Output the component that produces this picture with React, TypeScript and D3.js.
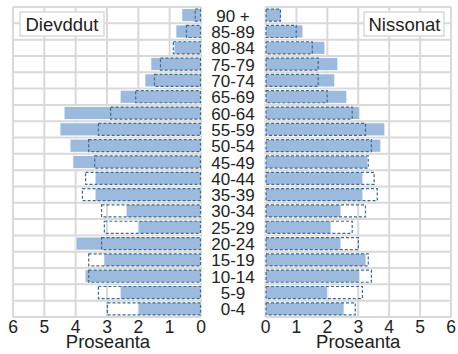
import React from "react";
import * as d3 from "d3";

const ageGroups = ["0-4","5-9","10-14","15-19","20-24","25-29","30-34","35-39","40-44","45-49","50-54","55-59","60-64","65-69","70-74","75-79","80-84","85-89","90 +"];
const menNow = [2.01,2.58,3.7,3.1,3.99,2.01,2.39,3.38,3.38,4.09,4.18,4.5,4.37,2.58,1.79,1.6,0.86,0.8,0.61];
const menPast = [3.0,3.29,3.6,3.6,3.19,3.1,3.19,3.8,3.7,3.41,3.6,3.29,2.9,2.1,1.5,1.31,0.9,0.48,0.2];
const womenNow = [2.54,2.01,3.05,3.25,2.44,2.12,2.44,3.15,3.15,3.31,3.73,3.86,3.05,2.63,2.24,2.34,1.92,1.21,0.5];
const womenPast = [2.92,3.15,3.44,3.34,3.02,2.82,3.25,3.63,3.53,3.34,3.44,3.25,2.82,2.01,1.72,1.72,1.53,1.01,0.5];
const xTicks = [0,1,2,3,4,5,6];

const W = 458, H = 354;
const top = 7, bottom = 317;
const gridColor = "#d9d9d9";
const fillColor = "#9bbade";
const dashColor = "#3f6a8c";
const font = "Liberation Sans, Arial, sans-serif";

function Panel({ side, now, past, label }: { side: "left" | "right"; now: number[]; past: number[]; label: string }) {
  const x0 = side === "left" ? 13 : 265.5;
  const x1 = side === "left" ? 201 : 451;
  const x = d3.scaleLinear().domain(side === "left" ? [6, 0] : [0, 6]).range([x0, x1]);
  const y = d3.scaleBand().domain([...ageGroups].reverse()).range([top, bottom]).paddingInner(0.2).paddingOuter(0.1);
  const rows = d3.range(ageGroups.length + 1).map(i => top + i * ((bottom - top) / ageGroups.length));
  return (
    <g>
      {rows.map((r, i) => (
        <line key={"h" + i} x1={x0} x2={x1} y1={r} y2={r} stroke={gridColor} strokeWidth={2} />
      ))}
      {xTicks.map(t => (
        <line key={"v" + t} x1={x(t)} x2={x(t)} y1={top} y2={bottom} stroke={gridColor} strokeWidth={2} />
      ))}
      {ageGroups.map((a, i) => {
        const v = now[i];
        const xa = Math.min(x(0), x(v));
        return (
          <rect key={"b" + a} x={xa} y={y(a)!} width={Math.abs(x(v) - x(0))} height={y.bandwidth()} fill={fillColor} stroke="#ffffff" strokeWidth={0.8} />
        );
      })}
      {ageGroups.map((a, i) => {
        const v = past[i];
        const xa = Math.min(x(0), x(v));
        return (
          <rect key={"d" + a} x={xa + 0.5} y={y(a)! + 0.5} width={Math.abs(x(v) - x(0)) - 1} height={y.bandwidth() - 1} fill="none" stroke={dashColor} strokeWidth={1.2} strokeDasharray="3,2" />
        );
      })}
      {xTicks.map(t => (
        <text key={"t" + t} x={x(t)} y={332.5} textAnchor="middle" fontSize={17.5} fontFamily={font} fill="#222">{t}</text>
      ))}
      <text x={(x0 + x1) / 2 + (side === "left" ? 1 : 0)} y={348} textAnchor="middle" fontSize={18.5} fontFamily={font} fill="#222">Proseanta</text>
      {side === "left" ? (
        <g>
          <rect x={20} y={12} width={84} height={24} fill="#fff" stroke={gridColor} strokeWidth={1.5} />
          <text x={62} y={31} textAnchor="middle" fontSize={18.5} fontFamily={font} fill="#222">{label}</text>
        </g>
      ) : (
        <g>
          <rect x={364} y={12} width={80} height={24} fill="#fff" stroke={gridColor} strokeWidth={1.5} />
          <text x={404.5} y={31} textAnchor="middle" fontSize={18.5} fontFamily={font} fill="#222">{label}</text>
        </g>
      )}
    </g>
  );
}

export default function App() {
  const y = d3.scaleBand().domain([...ageGroups].reverse()).range([top, bottom]);
  return (
    <svg width={W} height={H} style={{ position: "absolute", left: 0, top: 0, background: "#fff" }}>
      <Panel side="left" now={menNow} past={menPast} label="Dievddut" />
      <Panel side="right" now={womenNow} past={womenPast} label="Nissonat" />
      {ageGroups.map(a => (
        <text key={a} x={233} y={y(a)! + y.bandwidth() / 2 + 6.5} textAnchor="middle" fontSize={17} fontFamily={font} fill="#222">{a}</text>
      ))}
    </svg>
  );
}
